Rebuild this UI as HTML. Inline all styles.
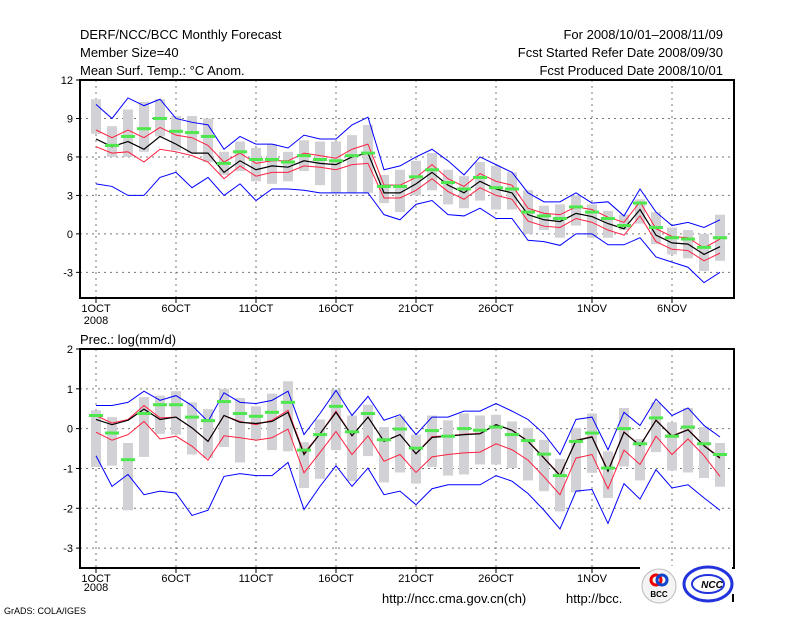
<!DOCTYPE html>
<html><head><meta charset="utf-8"><style>
body{margin:0;background:#fff;width:800px;height:618px;overflow:hidden}
svg{display:block}
text{font-family:"Liberation Sans",sans-serif;fill:#000}
</style></head><body>
<svg id="chart" width="800" height="618" viewBox="0 0 800 618" xmlns="http://www.w3.org/2000/svg">
<text x="80" y="39" font-size="13">DERF/NCC/BCC Monthly Forecast</text>
<text x="80" y="57" font-size="13">Member Size=40</text>
<text x="80" y="75" font-size="13">Mean Surf. Temp.: °C Anom.</text>
<text x="723" y="39" font-size="13" text-anchor="end">For 2008/10/01–2008/11/09</text>
<text x="723" y="57" font-size="13" text-anchor="end">Fcst Started Refer Date 2008/09/30</text>
<text x="723" y="75" font-size="13" text-anchor="end">Fcst Produced Date 2008/10/01</text>
<text x="80" y="344" font-size="13">Prec.: log(mm/d)</text>
<text x="4" y="614" font-size="9">GrADS: COLA/IGES</text>
<text x="382" y="603" font-size="13">http://ncc.cma.gov.cn(ch)</text>
<text x="566" y="603" font-size="13">http://bcc.</text>
</svg>
<script>
// ---- Temperature data (top panel) ----
const tMean=[7.4,6.8,7.2,6.6,7.6,7.0,6.3,6.3,4.8,5.7,5.0,5.3,5.2,5.7,5.5,5.4,6.0,6.3,3.2,3.2,3.9,4.8,3.8,3.2,4.1,3.5,3.2,1.5,1.1,0.96,1.6,1.35,0.8,0.4,1.9,-0.1,-0.7,-0.8,-1.6,-1.0];
const tRedHi=[8.1,7.5,8.1,7.5,8.3,7.7,7.5,6.9,5.6,6.3,5.5,5.7,5.7,6.3,6.1,5.9,6.6,7.0,3.8,3.8,4.4,5.4,4.3,3.7,4.7,4.1,3.8,2.0,1.6,1.5,2.1,1.9,1.3,0.9,2.5,0.4,-0.2,-0.3,-1.1,-0.4];
const tRedLo=[6.8,6.3,6.4,5.6,6.6,6.4,6.1,5.6,4.3,5.3,4.5,4.8,4.8,5.3,5.2,5.0,5.4,5.5,2.8,2.8,3.4,4.3,3.3,2.7,3.6,3.0,2.7,1.0,0.6,0.5,1.2,0.9,0.3,-0.1,1.4,-0.6,-1.2,-1.3,-2.1,-1.5];
const tMax=[10.1,9.0,10.6,10.0,10.5,9.0,8.7,8.5,6.6,7.6,7.0,7.0,6.7,7.7,7.4,7.4,8.5,9.1,5.0,5.3,6.0,6.6,5.7,4.6,6.0,5.4,4.8,3.2,2.5,2.5,3.2,2.4,2.5,1.4,3.5,1.7,0.65,0.9,0.5,1.1];
const tMin=[3.9,3.7,3.0,3.0,4.4,4.8,3.6,4.4,3.0,3.9,2.6,3.5,3.5,3.4,3.2,3.2,3.2,3.2,1.5,1.1,2.3,2.6,1.5,1.4,2.0,1.2,1.2,-0.5,-0.6,-0.9,0,0,-0.85,-0.85,-0.3,-1.8,-2.2,-2.6,-3.8,-3.0];
const tGreen=[null,6.9,7.6,8.2,9.0,8.0,7.9,7.6,5.5,6.4,5.8,5.8,5.6,6.1,5.8,5.7,6.1,6.3,3.7,3.7,4.45,5.0,4.0,3.5,4.4,3.6,3.5,1.7,1.4,1.2,2.1,1.7,1.2,0.65,2.4,0.5,-0.3,-0.4,-1.05,-0.3];
const tBarHi=[10.5,8.4,9.7,10.3,10.5,9.2,9.2,9.0,6.4,7.2,6.7,7.0,6.4,7.3,7.2,7.2,7.7,8.5,4.6,5.0,5.7,6.3,5.0,4.5,5.6,5.3,4.8,3.4,2.2,2.3,3.0,2.3,1.8,1.5,2.7,1.7,0.5,0.3,0,1.5];
const tBarLo=[7.8,6.0,6.0,6.4,7.6,6.5,6.3,5.6,4.6,4.9,4.1,3.9,4.1,4.9,3.8,3.2,3.2,3.2,2.4,1.7,3.0,3.4,2.3,2.0,2.6,1.9,1.9,0,0.3,-0.3,0.65,-0.3,-0.3,0.3,0.8,-0.8,-1.6,-1.9,-2.9,-2.1];
// ---- Precipitation data (bottom panel) ----
const pMean=[0.23,0.1,0.21,0.49,0.23,0.29,0.02,-0.32,0.33,0.16,0.13,0.18,0.41,-0.65,-0.13,0.41,-0.18,0.29,-0.32,-0.15,-0.63,-0.22,-0.19,-0.15,-0.13,0.1,-0.04,-0.32,-0.74,-1.18,-0.3,-0.21,-1.07,-0.09,-0.43,0.21,-0.19,-0.03,-0.43,-0.74];
const pRedHi=[0.33,0.14,0.23,0.58,0.27,0.29,0.02,-0.32,0.33,0.18,0.1,0.21,0.46,-0.61,-0.13,0.44,-0.18,0.29,-0.32,-0.15,-0.63,-0.2,-0.18,-0.14,-0.12,0.1,-0.04,-0.31,-0.73,-1.17,-0.29,-0.2,-1.05,-0.08,-0.42,0.22,-0.18,-0.02,-0.42,-0.72];
const pRedLo=[-0.09,-0.29,-0.15,0.18,-0.26,-0.19,-0.44,-0.79,-0.18,-0.23,-0.29,-0.23,-0.01,-1.11,-0.6,-0.07,-0.65,-0.18,-0.82,-0.65,-1.1,-0.71,-0.65,-0.61,-0.59,-0.38,-0.53,-0.79,-1.21,-1.66,-0.74,-0.65,-1.51,-0.54,-0.9,-0.19,-0.65,-0.26,-0.68,-1.2];
const pMax=[0.58,0.58,0.66,0.94,0.71,0.83,0.58,0.18,0.9,0.66,0.63,0.71,0.94,-0.15,0.38,0.96,0.33,0.81,0.21,0.35,-0.15,0.29,0.29,0.44,0.44,0.63,0.44,0.23,-0.13,-0.65,0.23,0.29,-0.53,0.41,0.08,0.74,0.33,0.52,0.08,-0.21];
const pMin=[-0.68,-1.45,-1.15,-1.66,-1.57,-1.62,-2.18,-2.05,-1.2,-1.13,-1.18,-1.18,-0.85,-2.03,-1.45,-0.93,-1.45,-0.99,-1.66,-1.57,-1.91,-1.51,-1.41,-1.41,-1.41,-1.18,-1.32,-1.63,-2.05,-2.52,-1.57,-1.53,-2.38,-1.38,-1.77,-1.03,-1.49,-1.41,-1.74,-2.05];
const pGreen=[0.33,-0.11,-0.78,0.38,0.6,0.6,0.29,0.2,0.68,0.38,0.31,0.41,0.66,-0.54,-0.15,0.56,-0.08,0.38,-0.28,-0.01,-0.49,-0.05,-0.19,0,-0.04,0.04,-0.15,-0.3,-0.64,-1.18,-0.32,-0.11,-0.99,0,-0.38,0.27,-0.19,0.04,-0.38,-0.65];
const pBarHi=[0.46,0.29,-0.36,0.79,0.83,0.94,0.66,0.49,1.0,0.77,0.56,0.88,1.19,-0.34,0.23,0.98,0.33,0.6,0.04,0.31,-0.15,0.33,0.21,0.38,0.33,0.35,0.18,0.02,-0.28,-0.76,0.02,0.38,-0.57,0.52,-0.26,0.66,0.16,0.52,0.04,-0.36];
const pBarLo=[-0.96,-0.93,-2.05,-0.71,-0.13,-0.15,-0.65,-0.74,-0.46,-0.85,-0.28,-0.54,-0.57,-1.49,-1.26,-0.54,-1.32,-0.69,-1.35,-1.1,-1.38,-0.96,-1.18,-1.15,-0.9,-0.9,-0.99,-1.3,-1.57,-2.08,-1.6,-1.11,-1.74,-0.95,-1.3,-0.59,-1.05,-1.1,-1.24,-1.46];
// ---- Axis labels ----
const xTickDays=[0,5,10,15,20,25,31,36];
const xTickLabels=["1OCT","6OCT","11OCT","16OCT","21OCT","26OCT","1NOV","6NOV"];
const tYTicks=[-3,0,3,6,9,12];
const pYTicks=[-3,-2,-1,0,1,2];

const NS="http://www.w3.org/2000/svg";
const svg=document.getElementById('chart');
function mk(tag,attrs,parent){const e=document.createElementNS(NS,tag);for(const k in attrs)e.setAttribute(k,attrs[k]);(parent||svg).appendChild(e);return e;}
const xs=i=>96+16*i;

function panel(cfg){
  const g=mk('g',{});
  
  
  const ys=v=>cfg.y0-(v-cfg.vmin)*(cfg.y0-cfg.y1)/(cfg.vmax-cfg.vmin);
  cfg.yticks.forEach(v=>{
    const y=ys(v);
    if(y>cfg.y1+1&&y<cfg.y0-1){const l=mk('line',{x1:80,x2:734,y1:y,y2:y,stroke:'#777','stroke-dasharray':'2,4','stroke-width':1},g);
      
      }
    mk('line',{x1:76,x2:80,y1:y,y2:y,stroke:'#000'},g);
    const t=mk('text',{x:73,y:y+4,'font-size':11,'text-anchor':'end'},g);
    t.textContent=v;
    
    
  });
  xTickDays.forEach((d,k)=>{
    const x=xs(d);
    const l=mk('line',{x1:x,x2:x,y1:cfg.y1,y2:cfg.y0,stroke:'#777','stroke-dasharray':'2,4','stroke-width':1},g);
    
    
    mk('line',{x1:x,x2:x,y1:cfg.y0,y2:cfg.y0+5,stroke:'#000'},g);
    const t=mk('text',{x:x,y:cfg.y0+14,'font-size':11,'text-anchor':'middle'},g);
    t.textContent=xTickLabels[k];
    
    
  });
  cfg.barHi.forEach((h,i)=>{
    const y1=ys(h),y2=ys(cfg.barLo[i]);
    const r=mk('rect',{x:xs(i)-5,y:y1,width:10,height:Math.max(1,y2-y1),fill:'#d2d2d6'},g);
    
    
  });
  const line=(arr,color,w,name)=>{
    const p=mk('polyline',{points:arr.map((v,i)=>xs(i)+','+ys(v)).join(' '),fill:'none',stroke:color,'stroke-width':w},g);
    
    
  };
  line(cfg.max,'#0000ff',1,'max-line');
  line(cfg.min,'#0000ff',1,'min-line');
  line(cfg.redHi,'#ff1f3f',1,'upper-spread-line');
  line(cfg.redLo,'#ff1f3f',1,'lower-spread-line');
  line(cfg.mean,'#000',1.2,'ensemble-mean-line');
  cfg.green.forEach((v,i)=>{
    if(v===null)return;
    const r=mk('rect',{x:xs(i)-7,y:ys(v)-1.5,width:14,height:3,fill:'#4ee84e'},g);
    
    
  });
  const f=mk('rect',{x:80,y:cfg.y1,width:654,height:cfg.y0-cfg.y1,fill:'none',stroke:'#000','stroke-width':2},g);
  
  
  return g;
}
panel({name:'temperature-panel',y0:298,y1:80,vmin:-5,vmax:12,yticks:tYTicks,mean:tMean,redHi:tRedHi,redLo:tRedLo,max:tMax,min:tMin,green:tGreen,barHi:tBarHi,barLo:tBarLo});
panel({name:'precipitation-panel',y0:568,y1:349,vmin:-3.5,vmax:2,yticks:pYTicks,mean:pMean,redHi:pRedHi,redLo:pRedLo,max:pMax,min:pMin,green:pGreen,barHi:pBarHi,barLo:pBarLo});
const yr=mk('text',{x:96,y:324,'font-size':11,'text-anchor':'middle'});
yr.textContent='2008';


const yr2=mk('text',{x:96,y:591,'font-size':11,'text-anchor':'middle'});
yr2.textContent='2008';


// logos overlay
const cover=mk('rect',{x:640,y:566,width:92,height:52,fill:'#fff'});


const bcc=mk('g',{});


mk('circle',{cx:659,cy:586,r:17,fill:'#f4f4f4',stroke:'#bbb'},bcc);
mk('circle',{cx:656,cy:580,r:5,fill:'none',stroke:'#e00','stroke-width':3},bcc);
mk('circle',{cx:662,cy:580,r:5,fill:'none',stroke:'#1144cc','stroke-width':3},bcc);
const bt=mk('text',{x:659,y:597,'font-size':8,'text-anchor':'middle','font-weight':'bold'},bcc);
bt.textContent='BCC';
const ncc=mk('g',{});


mk('ellipse',{cx:708,cy:584,rx:24,ry:17,fill:'#fff',stroke:'#2233dd','stroke-width':3},ncc);
mk('ellipse',{cx:708,cy:584,rx:16,ry:9,fill:'none',stroke:'#2233dd','stroke-width':2},ncc);
const nt=mk('text',{x:712,y:588,'font-size':10,'text-anchor':'middle','font-weight':'bold','font-style':'italic',fill:'#2233dd'},ncc);
nt.textContent='NCC';
mk('line',{x1:733,x2:733,y1:594,y2:602,stroke:'#000','stroke-width':2});
</script>
</body></html>
